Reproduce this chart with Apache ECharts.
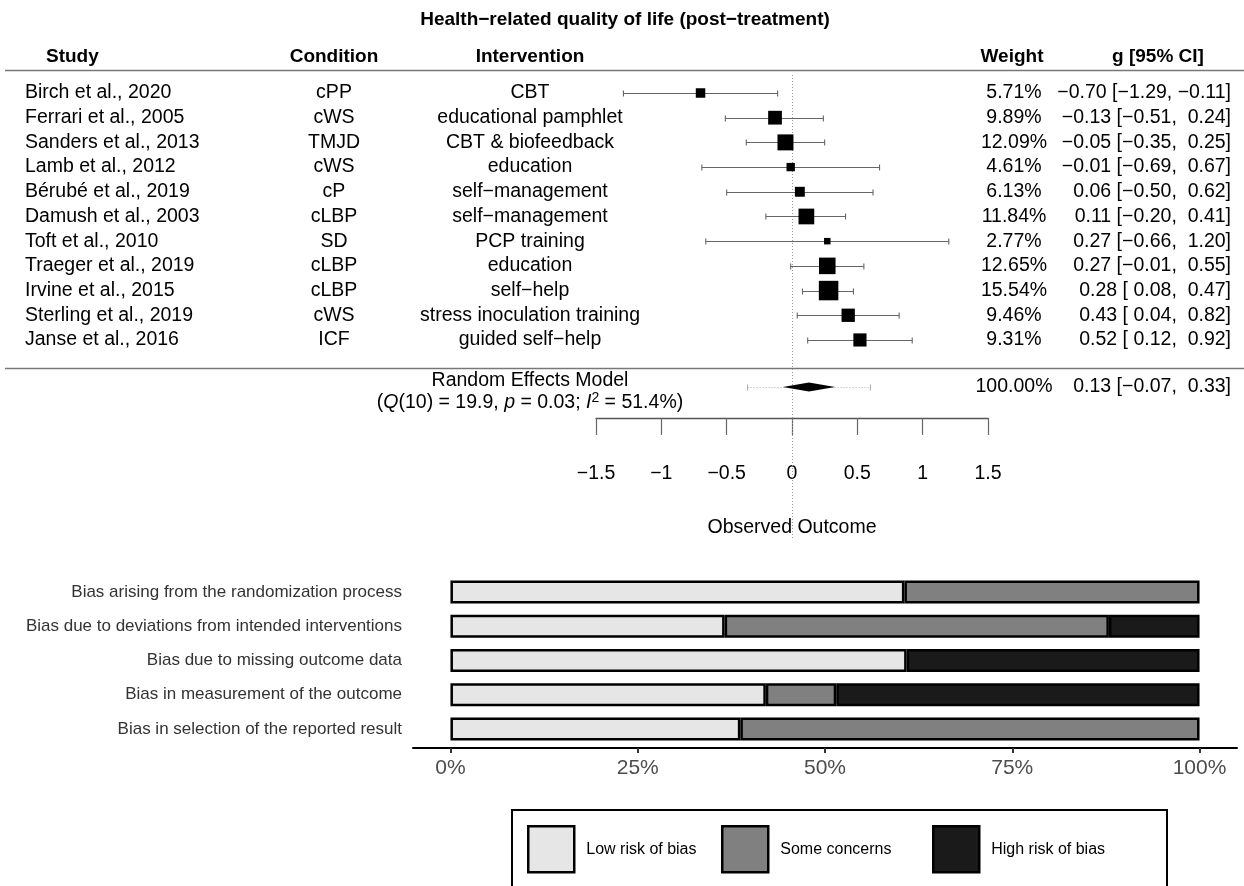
<!DOCTYPE html>
<html><head><meta charset="utf-8">
<script src="https://cdn.jsdelivr.net/npm/echarts@6/dist/echarts.min.js"></script>
<style>html,body{margin:0;padding:0;background:#fff}#c{width:1244px;height:886px}</style>
</head><body><div id="c"></div>
<script>
// ---------- forest plot data ----------
const studies = ['Birch et al., 2020','Ferrari et al., 2005','Sanders et al., 2013','Lamb et al., 2012','Bérubé et al., 2019','Damush et al., 2003','Toft et al., 2010','Traeger et al., 2019','Irvine et al., 2015','Sterling et al., 2019','Janse et al., 2016'];
const conditions = ['cPP','cWS','TMJD','cWS','cP','cLBP','SD','cLBP','cLBP','cWS','ICF'];
const interventions = ['CBT','educational pamphlet','CBT & biofeedback','education','self−management','self−management','PCP training','education','self−help','stress inoculation training','guided self−help'];
const weights = [5.71, 9.89, 12.09, 4.61, 6.13, 11.84, 2.77, 12.65, 15.54, 9.46, 9.31];
const estimates = [-0.70, -0.13, -0.05, -0.01, 0.06, 0.11, 0.27, 0.27, 0.28, 0.43, 0.52];
const ciLower = [-1.29, -0.51, -0.35, -0.69, -0.50, -0.20, -0.66, -0.01, 0.08, 0.04, 0.12];
const ciUpper = [-0.11, 0.24, 0.25, 0.67, 0.62, 0.41, 1.20, 0.55, 0.47, 0.82, 0.92];
const reEstimate = [0.13, -0.07, 0.33];      // estimate, lower, upper
const rePrediction = [-0.34, 0.60];          // prediction interval
const reWeight = [100.00];
const reStats = [10, 19.9, 0.03, 51.4];      // df, Q, p, I2
const forestTicks = [-1.5, -1, -0.5, 0, 0.5, 1, 1.5];

// ---------- risk of bias data ----------
const domains = ['Bias arising from the randomization process','Bias due to deviations from intended interventions','Bias due to missing outcome data','Bias in measurement of the outcome','Bias in selection of the reported result'];
const lowRisk = [60.6, 36.6, 60.9, 42.1, 38.7];
const someConcerns = [39.4, 51.3, 0, 9.4, 61.3];
const highRisk = [0, 12.1, 39.1, 48.5, 0];
const robTicks = [0, 25, 50, 75, 100];
const robLevels = ['Low risk of bias','Some concerns','High risk of bias'];

// ---------- styling ----------
const FF = '"Liberation Sans", Arial, Helvetica, sans-serif';
const FS = 19.5;
const fmt = v => (v < 0 ? '−' : ' ') + Math.abs(v).toFixed(2);
const ciText = (e, l, u) => fmt(e).trim() + ' [' + fmt(l) + ', ' + fmt(u) + ']';
const wMin = Math.min(...weights), wMax = Math.max(...weights);
const RE_ROW = 12.9;
const legendLeft = [527, 721, 932];

const chart = echarts.init(document.getElementById('c'), null, {renderer: 'canvas'});

function txt(x, y, s, align, extra) {
  return {type: 'text', x: x, y: y, style: Object.assign({text: s, fill: '#000', fontSize: FS, fontFamily: FF, align: align, verticalAlign: 'middle'}, extra || {})};
}

function renderRef(params, api) {
  const x = Math.round(api.coord([0, 0])[0]) + 0.5;
  return {type: 'line', shape: {x1: x, y1: 75, x2: x, y2: 540}, style: {stroke: '#999', lineWidth: 1, lineDash: [1, 2]}, silent: true};
}

function renderStudy(params, api) {
  const est = api.value(0), row = api.value(1), lo = api.value(2), hi = api.value(3), w = api.value(4);
  const pl = api.coord([lo, row]), ph = api.coord([hi, row]), pe = api.coord([est, row]);
  const y = Math.round(pl[1]) + 0.5;
  const side = 13 * (0.5 + (w - wMin) / (wMax - wMin));
  const ls = {stroke: '#666', lineWidth: 1.1};
  return {type: 'group', children: [
    {type: 'line', shape: {x1: pl[0], y1: y, x2: ph[0], y2: y}, style: ls},
    {type: 'line', shape: {x1: pl[0], y1: y - 3, x2: pl[0], y2: y + 3}, style: ls},
    {type: 'line', shape: {x1: ph[0], y1: y - 3, x2: ph[0], y2: y + 3}, style: ls},
    {type: 'rect', shape: {x: pe[0] - side / 2, y: pe[1] - side / 2, width: side, height: side}, style: {fill: '#000'}}
  ]};
}

function renderText(params, api) {
  const i = params.dataIndex;
  const y = api.coord([0, api.value(1)])[1];
  return {type: 'group', children: [
    txt(25, y, studies[i], 'left'),
    txt(334, y, conditions[i], 'center'),
    txt(530, y, interventions[i], 'center'),
    txt(1014, y, weights[i].toFixed(2) + '%', 'center'),
    txt(1231, y, ciText(estimates[i], ciLower[i], ciUpper[i]), 'right')
  ]};
}

function renderRE(params, api) {
  const est = api.value(0), row = api.value(1), lo = api.value(2), hi = api.value(3), pl = api.value(4), ph = api.value(5);
  const c = api.coord([est, row]), l = api.coord([lo, row]), h = api.coord([hi, row]);
  const a = api.coord([pl, row]), b = api.coord([ph, row]);
  const y = Math.round(c[1]) + 0.5;
  const hh = 4.5;
  const ps = {stroke: '#aaa', lineWidth: 1};
  const rich = {
    n: {fontSize: FS, fontFamily: FF, fill: '#000'},
    i: {fontSize: FS, fontFamily: FF, fontStyle: 'italic', fill: '#000'},
    s: {fontSize: 14, fontFamily: FF, fill: '#000', verticalAlign: 'top', padding: [0, 0, 10, 0]}
  };
  const stat = '{n|(}{i|Q}{n|(' + reStats[0] + ') = ' + reStats[1] + ', }{i|p}{n| = ' + reStats[2].toFixed(2) + '; }{i|I}{s|2}{n| = ' + reStats[3] + '%)}';
  return {type: 'group', children: [
    {type: 'line', shape: {x1: a[0], y1: y, x2: b[0], y2: y}, style: Object.assign({lineDash: [1, 2]}, ps)},
    {type: 'line', shape: {x1: a[0], y1: y - 3, x2: a[0], y2: y + 3}, style: ps},
    {type: 'line', shape: {x1: b[0], y1: y - 3, x2: b[0], y2: y + 3}, style: ps},
    {type: 'polygon', shape: {points: [[l[0], c[1]], [c[0], c[1] - hh], [h[0], c[1]], [c[0], c[1] + hh]]}, style: {fill: '#000'}},
    txt(530, c[1] - 6, 'Random Effects Model', 'center'),
    {type: 'text', x: 530, y: c[1] + 16, style: {text: stat, rich: rich, align: 'center', verticalAlign: 'middle', fontSize: FS, fontFamily: FF}},
    txt(1014, c[1], reWeight[0].toFixed(2) + '%', 'center'),
    txt(1231, c[1], ciText(est, lo, hi), 'right')
  ]};
}

const studyData = estimates.map((e, i) => [e, i + 1, ciLower[i], ciUpper[i], weights[i]]);
const textData = studies.map((s, i) => [0, i + 1]);
const reData = [[reEstimate[0], RE_ROW, reEstimate[1], reEstimate[2], rePrediction[0], rePrediction[1]]];
const robColors = ['#E6E6E6', '#808080', '#1A1A1A'];
const robValues = [lowRisk, someConcerns, highRisk];

const option = {
  animation: false,
  textStyle: {fontFamily: FF},
  grid: [
    {left: 596, width: 392, top: 68.3, height: 349.7},
    {left: 413, right: 7, top: 575, bottom: 140}
  ],
  xAxis: [
    {gridIndex: 0, type: 'value', min: -1.5, max: 1.5, interval: 0.5,
     axisLine: {show: true, onZero: false, lineStyle: {color: '#555', width: 1.3}},
     axisTick: {show: true, length: 17, lineStyle: {color: '#666', width: 1.2}},
     axisLabel: {fontSize: FS, color: '#000', margin: 46, fontFamily: FF, formatter: v => (v < 0 ? '−' : '') + Math.abs(v)},
     splitLine: {show: false},
     name: 'Observed Outcome', nameLocation: 'middle', nameGap: 100,
     nameTextStyle: {fontSize: FS, color: '#000', fontFamily: FF}},
    {gridIndex: 1, type: 'value', min: -5, max: 105, offset: 2,
     axisLine: {show: true, onZero: false, lineStyle: {color: '#000', width: 2}},
     axisTick: {show: true, customValues: robTicks, length: 5, lineStyle: {color: '#333', width: 2}},
     axisLabel: {customValues: robTicks, formatter: v => v + '%', fontSize: 21, color: '#4d4d4d', margin: 10, fontFamily: FF},
     splitLine: {show: false}}
  ],
  yAxis: [
    {gridIndex: 0, type: 'value', min: 0, max: 14.16, inverse: true, show: false},
    {gridIndex: 1, type: 'category', data: domains, inverse: true,
     axisLine: {show: false}, axisTick: {show: false},
     axisLabel: {fontSize: 17, color: '#333', margin: 11, fontFamily: FF}}
  ],
  legend: robLevels.map((name, k) => ({
    data: [name], left: legendLeft[k], top: 825, padding: 0,
    itemWidth: 46, itemHeight: 46, icon: 'rect', selectedMode: false,
    itemStyle: {borderColor: '#000', borderWidth: 2.5},
    textStyle: {fontSize: 16, color: '#000', fontFamily: FF, padding: [0, 0, 0, 7]}
  })),
  graphic: [
    {type: 'text', x: 625, y: 20, style: {text: 'Health−related quality of life (post−treatment)', fontSize: 19, fontWeight: 'bold', fontFamily: FF, fill: '#000', align: 'center', verticalAlign: 'middle'}},
    {type: 'text', x: 46, y: 57, style: {text: 'Study', fontSize: 19, fontWeight: 'bold', fontFamily: FF, fill: '#000', align: 'left', verticalAlign: 'middle'}},
    {type: 'text', x: 334, y: 57, style: {text: 'Condition', fontSize: 19, fontWeight: 'bold', fontFamily: FF, fill: '#000', align: 'center', verticalAlign: 'middle'}},
    {type: 'text', x: 530, y: 57, style: {text: 'Intervention', fontSize: 19, fontWeight: 'bold', fontFamily: FF, fill: '#000', align: 'center', verticalAlign: 'middle'}},
    {type: 'text', x: 1012, y: 57, style: {text: 'Weight', fontSize: 19, fontWeight: 'bold', fontFamily: FF, fill: '#000', align: 'center', verticalAlign: 'middle'}},
    {type: 'text', x: 1158, y: 57, style: {text: 'g [95% CI]', fontSize: 19, fontWeight: 'bold', fontFamily: FF, fill: '#000', align: 'center', verticalAlign: 'middle'}},
    {type: 'line', shape: {x1: 5, y1: 70.5, x2: 1244, y2: 70.5}, style: {stroke: '#777', lineWidth: 1.5}},
    {type: 'line', shape: {x1: 5, y1: 368.5, x2: 1244, y2: 368.5}, style: {stroke: '#777', lineWidth: 1.5}},
    {type: 'rect', shape: {x: 512, y: 810, width: 655, height: 90}, style: {fill: 'none', stroke: '#000', lineWidth: 2}}
  ],
  series: [
    {type: 'custom', xAxisIndex: 0, yAxisIndex: 0, data: [[0, 0]], renderItem: renderRef, silent: true, z: 1},
    {type: 'custom', xAxisIndex: 0, yAxisIndex: 0, data: studyData, encode: {x: [0, 2, 3], y: 1}, renderItem: renderStudy, silent: true, z: 2},
    {type: 'custom', xAxisIndex: 0, yAxisIndex: 0, data: textData, encode: {x: 0, y: 1}, renderItem: renderText, silent: true, z: 2},
    {type: 'custom', xAxisIndex: 0, yAxisIndex: 0, data: reData, encode: {x: [0, 2, 3], y: 1}, renderItem: renderRE, silent: true, z: 2}
  ].concat(robLevels.map((name, k) => ({
    name: name, type: 'bar', stack: 'rob', xAxisIndex: 1, yAxisIndex: 1,
    barWidth: 23, silent: true,
    data: robValues[k].map(v => v === 0 ? '-' : v),
    itemStyle: {color: robColors[k], borderColor: '#000', borderWidth: 2.5}
  })))
};
chart.setOption(option);
</script>
</body></html>
